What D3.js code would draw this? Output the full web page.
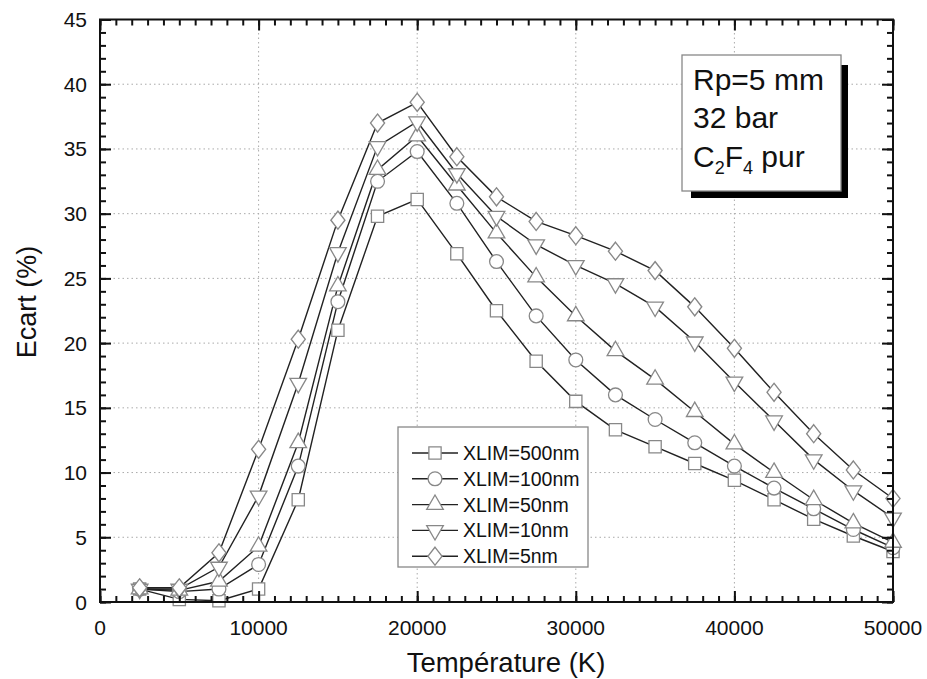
<!DOCTYPE html>
<html><head><meta charset="utf-8">
<script src="https://cdn.jsdelivr.net/npm/d3@7"></script>
<style>body{margin:0;background:#fff;} svg{display:block;font-family:"Liberation Sans",Arial,sans-serif;}</style>
</head><body>
<script>
const temperatures = [2500,5000,7500,10000,12500,15000,17500,20000,22500,25000,27500,30000,32500,35000,37500,40000,42500,45000,47500,50000];
const xlim500 = [1.0,0.2,0.1,1.0,7.9,21.0,29.8,31.1,26.9,22.5,18.6,15.5,13.3,12.0,10.7,9.4,7.9,6.4,5.1,3.9];
const xlim100 = [1.0,0.8,1.0,2.9,10.5,23.2,32.5,34.8,30.8,26.3,22.1,18.7,16.0,14.1,12.3,10.5,8.8,7.2,5.6,4.2];
const xlim50  = [1.0,0.9,1.6,4.3,12.3,24.4,33.4,36.0,32.2,28.5,25.1,22.1,19.4,17.2,14.7,12.2,10.0,7.9,6.1,4.6];
const xlim10  = [1.0,1.0,2.7,8.2,16.9,27.0,35.2,37.1,33.1,29.8,27.6,26.0,24.6,22.8,20.1,17.0,14.0,11.0,8.6,6.5];
const xlim5   = [1.1,1.1,3.8,11.8,20.3,29.5,37.0,38.6,34.4,31.3,29.4,28.3,27.1,25.6,22.8,19.6,16.2,13.0,10.2,8.0];
const seriesNames = ["XLIM=500nm","XLIM=100nm","XLIM=50nm","XLIM=10nm","XLIM=5nm"];
const seriesSymbols = ["square","circle","triangle","triangleDown","diamond"];
const xTicks = [0,10000,20000,30000,40000,50000];
const yTicks = [0,5,10,15,20,25,30,35,40,45];
const noteLines = ["Rp=5 mm","32 bar"];

const W=927,H=679;
const L=100,R=893,T=19.5,B=602;
const svg=d3.select("body").append("svg").attr("width",W).attr("height",H);
const x=d3.scaleLinear().domain([0,50000]).range([L,R]);
const y=d3.scaleLinear().domain([0,45]).range([B,T]);

// grid
const g=svg.append("g");
g.selectAll(".gx").data(xTicks.slice(1,-1)).join("line")
 .attr("x1",d=>x(d)).attr("x2",d=>x(d)).attr("y1",T).attr("y2",B)
 .attr("stroke","#aaa").attr("stroke-width",1).attr("stroke-dasharray","1.5,3");
g.selectAll(".gy").data(yTicks.slice(1,-1)).join("line")
 .attr("y1",d=>y(d)).attr("y2",d=>y(d)).attr("x1",L).attr("x2",R)
 .attr("stroke","#aaa").attr("stroke-width",1).attr("stroke-dasharray","1.5,3");

// series
const all=[xlim500,xlim100,xlim50,xlim10,xlim5];
const line=d3.line().x((d,i)=>x(temperatures[i])).y(d=>y(d));
const symMap={square:d3.symbolSquare,circle:d3.symbolCircle,triangle:d3.symbolTriangle,diamond:d3.symbolDiamond,triangleDown:d3.symbolTriangle};
const symSize={square:150,circle:150,triangle:120,triangleDown:120,diamond:130};
function sym(sel,name){
  sel.attr("d",d3.symbol().type(symMap[name]).size(symSize[name])())
   .attr("fill","#fff").attr("stroke","#888").attr("stroke-width",1.3);
  if(name==="triangleDown") sel.attr("transform",function(){return this.getAttribute("transform")+" rotate(180)";});
  if(name==="diamond") sel.attr("transform",function(){return this.getAttribute("transform")+" scale(1.15,0.85)";});
}
all.forEach((s,k)=>{
  svg.append("path").datum(s).attr("d",line).attr("fill","none").attr("stroke","#222").attr("stroke-width",1.4);
});
all.forEach((s,k)=>{
  svg.append("g").selectAll("path").data(s).join("path")
   .attr("transform",(d,i)=>`translate(${x(temperatures[i])},${y(d)})`)
   .each(function(){sym(d3.select(this),seriesSymbols[k]);});
});

// axes with inward ticks
function axisG(axis,tx,ty){return svg.append("g").attr("transform",`translate(${tx},${ty})`).call(axis);}
const xMinor=d3.range(0,50001,1000), yMinor=d3.range(0,45.01,1);
const style=a=>{a.select(".domain").remove();a.selectAll("line").attr("stroke","#111").attr("stroke-width",2);a.selectAll("text").remove();};
style(axisG(d3.axisBottom(x).tickValues(xMinor).tickSize(-6),0,B));
style(axisG(d3.axisBottom(x).tickValues(xTicks).tickSize(-11),0,B));
style(axisG(d3.axisTop(x).tickValues(xMinor).tickSize(-6),0,T));
style(axisG(d3.axisTop(x).tickValues(xTicks).tickSize(-11),0,T));
style(axisG(d3.axisLeft(y).tickValues(yMinor).tickSize(-6),L,0));
style(axisG(d3.axisLeft(y).tickValues(yTicks).tickSize(-11),L,0));
style(axisG(d3.axisRight(y).tickValues(yMinor).tickSize(-6),R,0));
style(axisG(d3.axisRight(y).tickValues(yTicks).tickSize(-11),R,0));
svg.append("rect").attr("x",L).attr("y",T).attr("width",R-L).attr("height",B-T)
 .attr("fill","none").attr("stroke","#111").attr("stroke-width",2);

// tick labels
svg.append("g").selectAll("text").data(xTicks).join("text")
 .attr("x",d=>x(d)).attr("y",635).attr("text-anchor","middle").attr("font-size",21).attr("fill","#111").text(d=>d);
svg.append("g").selectAll("text").data(yTicks).join("text")
 .attr("x",87).attr("y",d=>y(d)+7.5).attr("text-anchor","end").attr("font-size",21).attr("fill","#111").text(d=>d);

// titles
svg.append("text").attr("x",506).attr("y",672).attr("text-anchor","middle").attr("font-size",27.5).attr("fill","#111").text("Température (K)");
svg.append("text").attr("transform","translate(36,302) rotate(-90)").attr("text-anchor","middle").attr("font-size",27).attr("fill","#111").text("Ecart (%)");

// legend
const lg=svg.append("g");
lg.append("rect").attr("x",398).attr("y",427).attr("width",190).attr("height",140).attr("fill","#fff").attr("stroke","#888").attr("stroke-width",1.3);
seriesNames.forEach((n,k)=>{
  const yy=453+k*25.8;
  lg.append("line").attr("x1",412).attr("x2",458).attr("y1",yy).attr("y2",yy).attr("stroke","#222").attr("stroke-width",1.4);
  const p=lg.append("path").attr("transform",`translate(435,${yy})`);
  sym(p,seriesSymbols[k]);
  lg.append("text").attr("x",463).attr("y",yy+7).attr("font-size",19.5).attr("fill","#111").text(n);
});

// note box
const nb=svg.append("g");
nb.append("rect").attr("x",691).attr("y",65).attr("width",157).attr("height",133).attr("fill","#000");
nb.append("rect").attr("x",682).attr("y",55).attr("width",159).attr("height",136).attr("fill","#fff").attr("stroke","#888").attr("stroke-width",1.3);
noteLines.forEach((t,i)=>{
  nb.append("text").attr("x",693).attr("y",90+i*38).attr("font-size",30).attr("fill","#111").text(t);
});
const t3=nb.append("text").attr("x",693).attr("y",167).attr("font-size",30).attr("fill","#111");
t3.append("tspan").text("C");
t3.append("tspan").attr("font-size",18).attr("dy",7).text("2");
t3.append("tspan").attr("dy",-7).text("F");
t3.append("tspan").attr("font-size",18).attr("dy",7).text("4");
t3.append("tspan").attr("dy",-7).text(" pur");
</script>
</body></html>
